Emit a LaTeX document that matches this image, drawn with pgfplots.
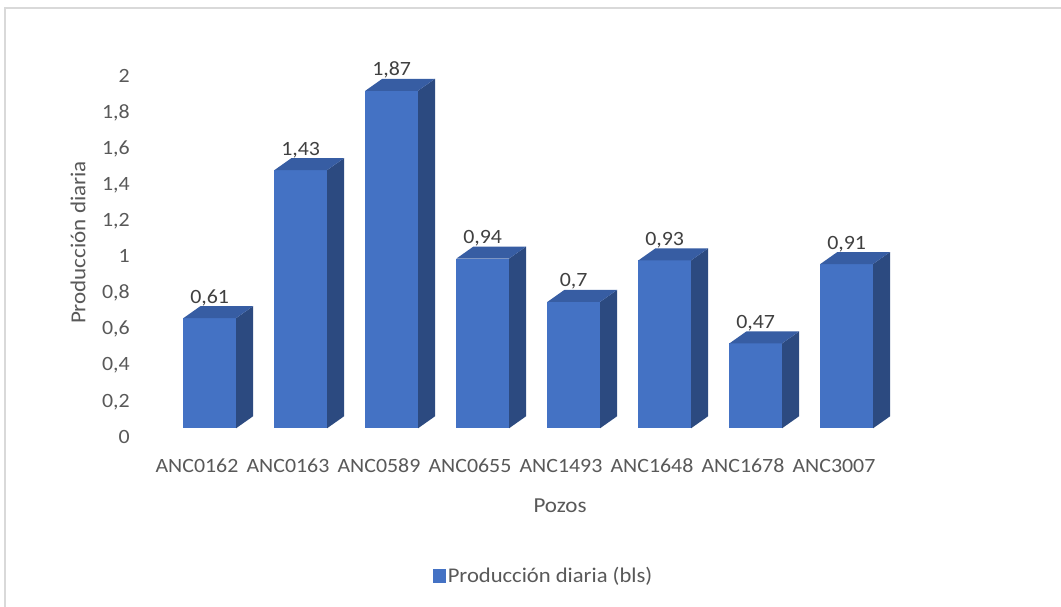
\documentclass[border=0pt]{standalone}
\usepackage{pgfplots}
\usepackage{pgfplotstable}
\pgfplotsset{compat=1.18}
\usepackage{fontspec}
\setmainfont{Carlito}[FakeStretch=1.08]

\definecolor{barfront}{HTML}{4472C4}
\definecolor{barside}{HTML}{2C4A80}
\definecolor{bartop}{HTML}{375DA3}
\definecolor{txtgray}{HTML}{595959}
\definecolor{lblgray}{HTML}{404040}
\definecolor{framegray}{HTML}{D9D9D9}

\pgfplotstableread{
x v
0 0.61
1 1.43
2 1.87
3 0.94
4 0.70
5 0.93
6 0.47
7 0.91
}\prodtable

% 3D column drawn around the point (category, value): front face down to zero,
% a darker side face and a top face giving the depth.
\pgfdeclareplotmark{column3d}{%
  \pgfmathsetmacro\colbot{(8.7-\val*180.5)*0.75}%
  \pgfmathsetmacro\colbotb{\colbot+9}%
  % front
  \pgfpathrectanglecorners{\pgfpoint{-10.2375pt}{\colbot pt}}{\pgfpoint{29.2875pt}{6.525pt}}%
  \pgfsetfillcolor{barfront}\pgfusepath{fill}%
  % side
  \pgfpathmoveto{\pgfpoint{29.2875pt}{\colbot pt}}%
  \pgfpathlineto{\pgfpoint{42.0375pt}{\colbotb pt}}%
  \pgfpathlineto{\pgfpoint{42.0375pt}{15.525pt}}%
  \pgfpathlineto{\pgfpoint{29.2875pt}{6.525pt}}%
  \pgfpathclose
  \pgfsetfillcolor{barside}\pgfusepath{fill}%
  % top
  \pgfpathmoveto{\pgfpoint{-10.2375pt}{6.525pt}}%
  \pgfpathlineto{\pgfpoint{29.2875pt}{6.525pt}}%
  \pgfpathlineto{\pgfpoint{42.0375pt}{15.525pt}}%
  \pgfpathlineto{\pgfpoint{2.5125pt}{15.525pt}}%
  \pgfpathclose
  \pgfsetfillcolor{bartop}\pgfusepath{fill}%
}

\begin{document}
\begin{tikzpicture}
\useasboundingbox (0,0) rectangle (795.75pt,455.25pt);
\fill[white] (0,0) rectangle (795.75pt,455.25pt);
% chart frame
\draw[framegray, line width=1.2pt] (3.75pt,-5pt) -- (3.75pt,449.25pt) -- (800pt,449.25pt);

\begin{axis}[
  at={(101.325pt,127.5pt)}, anchor=south west,
  x=68.25pt, y=135.375pt,
  xmin=-0.68, xmax=8, ymin=0, ymax=2,
  enlargelimits=false, clip=false,
  axis line style={draw=none},
  major tick length=0pt,
  xtick={0,...,7},
  xticklabels={ANC0162,ANC0163,ANC0589,ANC0655,ANC1493,ANC1648,ANC1678,ANC3007},
  ytick={0,0.2,0.4,0.6,0.8,1,1.2,1.4,1.6,1.8,2},
  /pgf/number format/use comma,
  /pgf/number format/assume math mode=true,
  tick label style={font=\fontsize{15.2}{17}\selectfont, text=txtgray},
  yticklabel style={anchor=base east, inner sep=0pt, xshift=-3.8pt, yshift=-4.6pt},
  xticklabel style={anchor=base, inner sep=0pt, yshift=-26.8pt},
  xlabel={Pozos},
  ylabel={Producción diaria},
  every axis x label/.style={at={(axis description cs:0.538,-0.191)}, anchor=center,
    font=\fontsize{16}{18}\selectfont, text=txtgray},
  every axis y label/.style={at={(axis description cs:-0.0723,0.5388)}, anchor=center,
    rotate=90, font=\fontsize{16}{18}\selectfont, text=txtgray},
  legend style={at={(0.3763,-0.385)}, anchor=west, draw=none, fill=none,
    inner sep=0pt, font=\fontsize{15.7}{18}\selectfont, text=txtgray},
  legend image code/.code={\fill[barfront] (0pt,-4.9pt) rectangle (9pt,4.9pt);},
]
\addplot[only marks, mark=column3d,
  visualization depends on={\thisrow{v} \as \val},
  nodes near coords,
  nodes near coords style={anchor=base, xshift=9.5pt, yshift=17.8pt,
    font=\fontsize{15.2}{17}\selectfont, text=lblgray, inner sep=0pt},
] table[x=x, y=v] {\prodtable};
\addlegendentry{Producción diaria (bls)}
\end{axis}
\end{tikzpicture}
\end{document}
